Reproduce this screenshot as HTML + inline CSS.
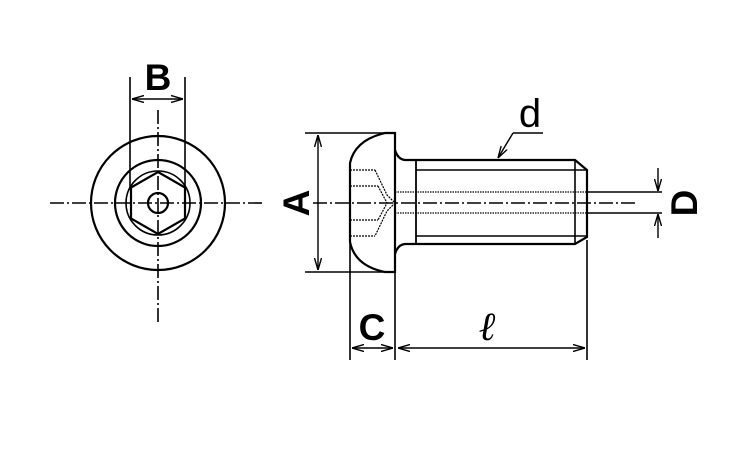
<!DOCTYPE html>
<html><head><style>body{margin:0;background:#fff}</style></head><body>
<svg width="750" height="450" viewBox="0 0 750 450" xmlns="http://www.w3.org/2000/svg">
<rect width="750" height="450" fill="#fff"/>
<defs>
<marker id="a" markerWidth="12" markerHeight="8" refX="12" refY="4" orient="auto" markerUnits="userSpaceOnUse"><path d="M0,0.5 L12,4 L0,7.5" fill="none" stroke="#000" stroke-width="1.4"/></marker>
</defs>
<g stroke="#000" fill="none" stroke-width="2.2">
<!-- left view -->
<circle cx="158" cy="203" r="67"/>
<circle cx="158" cy="203" r="43"/>
<circle cx="158" cy="203" r="32" stroke-width="1.6"/>
<polygon points="158,172 185,187.5 185,218.5 158,234 131,218.5 131,187.5"/>
<circle cx="158" cy="203" r="10"/>
<line x1="130" y1="77" x2="130" y2="190" stroke-width="1.6"/>
<line x1="185" y1="77" x2="185" y2="190" stroke-width="1.6"/>
<line x1="158" y1="99" x2="132" y2="99" stroke-width="1.4" marker-end="url(#a)"/>
<line x1="158" y1="99" x2="183" y2="99" stroke-width="1.4" marker-end="url(#a)"/>
<line x1="50" y1="203" x2="262" y2="203" stroke-width="1.6" stroke-dasharray="14,3,2,3"/>
<line x1="158" y1="110" x2="158" y2="322" stroke-width="1.6" stroke-dasharray="14,3,2,3"/>
<!-- side view head -->
<path d="M395,133 L385,133 Q355,140 350,163 L350,242 Q355,266 385,272 L395,272 Z"/>
<path d="M395,150 Q398,160 406,160 M395,254 Q398,244 406,244"/>
<line x1="350" y1="170" x2="375" y2="170" stroke-width="1.2" stroke-dasharray="2,1"/>
<line x1="350" y1="236" x2="375" y2="236" stroke-width="1.2" stroke-dasharray="2,1"/>
<line x1="350" y1="186" x2="378" y2="186" stroke-width="1.2" stroke-dasharray="2,1"/>
<line x1="350" y1="220" x2="378" y2="220" stroke-width="1.2" stroke-dasharray="2,1"/>
<path d="M375,170 L387,195 L395,203 L387,211 L375,236" stroke-width="1.2" stroke-dasharray="2,1"/>
<path d="M378,186 L387,203 L378,220" stroke-width="1.2" stroke-dasharray="2,1"/>
<!-- shaft -->
<path d="M406,160 L575,160 L587,170 L587,237 L575,244 L406,244"/>
<line x1="416" y1="160" x2="416" y2="244" stroke-width="1.8"/>
<line x1="575" y1="160" x2="575" y2="244" stroke-width="1.6"/>
<line x1="416" y1="170" x2="587" y2="170" stroke-width="1.6"/>
<line x1="416" y1="236" x2="587" y2="236" stroke-width="1.6"/>
<line x1="395" y1="192" x2="587" y2="192" stroke-width="1.2" stroke-dasharray="1.5,1"/>
<line x1="395" y1="213" x2="587" y2="213" stroke-width="1.2" stroke-dasharray="1.5,1"/>
<line x1="587" y1="192" x2="662" y2="192" stroke-width="1.6"/>
<line x1="587" y1="213" x2="662" y2="213" stroke-width="1.6"/>
<line x1="313" y1="203" x2="635" y2="203" stroke-width="1.6" stroke-dasharray="14,3,2,3"/>
<!-- D -->
<line x1="658" y1="168" x2="658" y2="191" stroke-width="1.4" marker-end="url(#a)"/>
<line x1="658" y1="238" x2="658" y2="214" stroke-width="1.4" marker-end="url(#a)"/>
<!-- A -->
<line x1="305" y1="133" x2="385" y2="133" stroke-width="1.6"/>
<line x1="305" y1="272" x2="383" y2="272" stroke-width="1.6"/>
<line x1="318" y1="203" x2="318" y2="135" stroke-width="1.4" marker-end="url(#a)"/>
<line x1="318" y1="203" x2="318" y2="270" stroke-width="1.4" marker-end="url(#a)"/>
<!-- C, l -->
<line x1="350" y1="242" x2="350" y2="360" stroke-width="1.6"/>
<line x1="395" y1="272" x2="395" y2="360" stroke-width="1.6"/>
<line x1="587" y1="240" x2="587" y2="360" stroke-width="1.6"/>
<line x1="372" y1="348" x2="352" y2="348" stroke-width="1.4" marker-end="url(#a)"/>
<line x1="372" y1="348" x2="393" y2="348" stroke-width="1.4" marker-end="url(#a)"/>
<line x1="490" y1="348" x2="398" y2="348" stroke-width="1.4" marker-end="url(#a)"/>
<line x1="490" y1="348" x2="585" y2="348" stroke-width="1.4" marker-end="url(#a)"/>
<!-- d leader -->
<line x1="543" y1="133" x2="513" y2="133" stroke-width="1.6"/>
<line x1="513" y1="133" x2="498" y2="158" stroke-width="1.4" marker-end="url(#a)"/>
</g>
<g font-family="Liberation Sans, sans-serif" font-weight="bold" fill="#000" font-size="37" text-anchor="middle">
<text x="158" y="90">B</text>
<text x="372" y="340">C</text>
<text x="530" y="127" font-weight="normal" font-size="40">d</text>
<text x="487" y="340" font-family="Liberation Serif, serif" font-style="italic" font-weight="normal" font-size="40">ℓ</text>
<text transform="translate(309,203) rotate(-90)">A</text>
<text transform="translate(697,203) rotate(-90)">D</text>
</g>
</svg>
</body></html>
